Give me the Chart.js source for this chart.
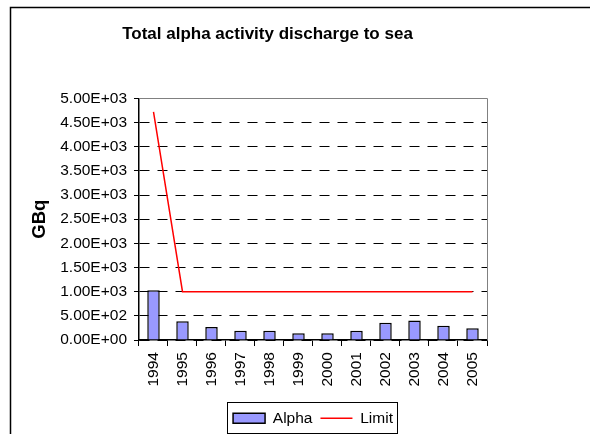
<!DOCTYPE html>
<html lang="en">
<head>
  <meta charset="UTF-8" />
  <title>Total alpha activity discharge to sea</title>
  <script src="https://cdn.jsdelivr.net/npm/chart.js@4"></script>
  <style>
    body { margin: 0; background: #fff; }
    #wrap { width: 590px; height: 434px; }
  </style>
</head>
<body>
  <div id="wrap"><canvas id="chart" width="590" height="434"></canvas></div>

  <script>
    // data
    const years = ['1994', '1995', '1996', '1997', '1998', '1999', '2000', '2001', '2002', '2003', '2004', '2005'];
    const alpha = [1030, 390, 270, 190, 190, 140, 140, 190, 355, 405, 295, 245];
    const limit = [4720, 1000, 1000, 1000, 1000, 1000, 1000, 1000, 1000, 1000, 1000, 1000];

    // 5000 -> "5.00E+03"
    function sci(v) {
      const parts = Number(v).toExponential(2).split('e');
      const exp = parseInt(parts[1], 10);
      const sign = exp < 0 ? '-' : '+';
      return parts[0] + 'E' + sign + String(Math.abs(exp)).padStart(2, '0');
    }

    // outer frame, plot area border (gray) and the box round the legend
    const frames = {
      id: 'frames',
      beforeDraw(chart) {
        const ctx = chart.ctx;
        ctx.save();
        ctx.strokeStyle = '#000';
        ctx.lineWidth = 1.5;
        ctx.beginPath();
        ctx.moveTo(10.5, chart.height);
        ctx.lineTo(10.5, 7.5);
        ctx.lineTo(chart.width, 7.5);
        ctx.stroke();
        ctx.restore();
      },
      afterDraw(chart) {
        const ctx = chart.ctx;
        const a = chart.chartArea;
        ctx.save();
        ctx.strokeStyle = '#808080';
        ctx.lineWidth = 1;
        ctx.beginPath();
        ctx.moveTo(a.left, Math.round(a.top) + 0.5);
        ctx.lineTo(Math.round(a.right) + 0.5, Math.round(a.top) + 0.5);
        ctx.lineTo(Math.round(a.right) + 0.5, a.bottom);
        ctx.stroke();

        const boxes = chart.legend.legendHitBoxes;
        if (boxes && boxes.length) {
          const first = boxes[0];
          const last = boxes[boxes.length - 1];
          const l = Math.round(first.left - 6) + 0.5;
          const r = Math.round(last.left + last.width + 4) + 0.5;
          const t = Math.round(first.top - 9) + 0.5;
          ctx.strokeStyle = '#000';
          ctx.strokeRect(l, t, r - l, 31);
        }
        ctx.restore();
      }
    };

    Chart.defaults.font.family = '"Liberation Sans", Arial, sans-serif';
    Chart.defaults.color = '#000';

    new Chart(document.getElementById('chart'), {
      data: {
        labels: years,
        datasets: [
          {
            type: 'bar',
            label: 'Alpha',
            data: alpha,
            backgroundColor: '#9999FF',
            borderColor: '#000',
            borderWidth: 1.5,
            barPercentage: 0.43,
            categoryPercentage: 1,
            order: 1
          },
          {
            type: 'line',
            label: 'Limit',
            data: limit,
            borderColor: '#FF0000',
            backgroundColor: '#FF0000',
            borderWidth: 1.5,
            pointRadius: 0,
            tension: 0,
            order: 0
          }
        ]
      },
      options: {
        responsive: false,
        animation: false,
        layout: { padding: { left: 25, right: 80, top: 10, bottom: -2 } },
        plugins: {
          tooltip: { enabled: false },
          title: {
            display: true,
            text: 'Total alpha activity discharge to sea',
            font: { size: 17, weight: 'bold' },
            padding: { top: 14, bottom: 54 }
          },
          legend: {
            position: 'bottom',
            fullSize: false,
            labels: {
              font: { size: 15.5 },
              usePointStyle: true,
              pointStyleWidth: 32,
              boxHeight: 10,
              padding: 8,
              sort: (a, b) => a.datasetIndex - b.datasetIndex,
              generateLabels(chart) {
                const items = Chart.defaults.plugins.legend.labels.generateLabels(chart);
                items.forEach(it => { it.pointStyle = it.datasetIndex === 0 ? 'rect' : 'line'; });
                return items;
              }
            }
          }
        },
        scales: {
          x: {
            type: 'category',
            offset: true,
            grid: {
              offset: true,
              drawOnChartArea: false,
              tickLength: 6,
              tickColor: '#000'
            },
            border: { color: '#000', width: 1.5 },
            ticks: {
              font: { size: 15.5 },
              minRotation: 90,
              maxRotation: 90,
              padding: 6
            },
            afterFit(scale) { scale.height += 10; }
          },
          y: {
            type: 'linear',
            min: 0,
            max: 5000,
            ticks: {
              stepSize: 500,
              font: { size: 15.5 },
              padding: 7,
              callback: v => sci(v)
            },
            grid: {
              color: c => (c.tick && c.tick.value === 5000) ? '#808080' : '#000',
              tickLength: 5,
              tickColor: '#000'
            },
            border: {
              color: '#000',
              width: 1.5,
              dash: c => (c.tick && c.tick.value === 5000) ? [] : [10, 8]
            },
            title: {
              display: true,
              text: 'GBq',
              font: { size: 18.5, weight: 'bold' },
              padding: { top: 4, bottom: 2 }
            }
          },
          // empty right-hand axis that only holds space, so the title sits where it does in the picture
          y2: {
            type: 'linear',
            position: 'right',
            grid: { display: false },
            border: { display: false },
            ticks: { display: false },
            afterFit(scale) { scale.width = 23; }
          }
        }
      },
      plugins: [frames]
    });
  </script>
</body>
</html>
